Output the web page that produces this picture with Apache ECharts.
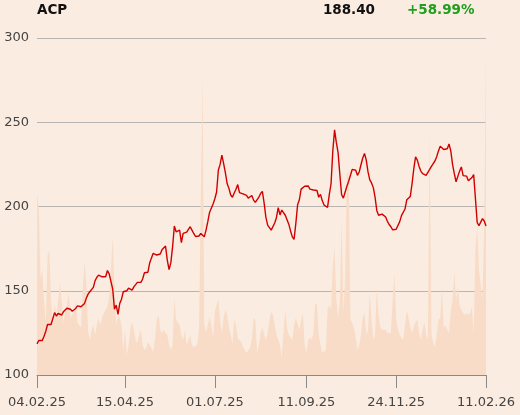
<!DOCTYPE html>
<html>
<head>
<meta charset="utf-8">
<script src="https://cdn.jsdelivr.net/npm/echarts@6/dist/echarts.min.js"></script>
<style>
html,body{margin:0;padding:0;background:#faece0;}
#chart{width:520px;height:415px;}
</style>
</head>
<body>
<div id="chart"></div>
<script>
const ticker = 'ACP';
const lastPrice = '188.40';
const changePct = '+58.99%';
const tickDates = ['04.02.25','15.04.25','01.07.25','11.09.25','24.11.25','11.02.26'];
const tickIndex = [0, 50, 101, 153, 204, 255];
const yTicks = [100, 150, 200, 250, 300];

const price = [
118.5,120.5,120,120.5,123,126,130,131,130,133.5,
137,135,136.5,137.5,135.6,137.5,138.5,139.6,139.3,139,
137.8,137,139.5,141,142,140.5,141.2,142.5,145.5,148,
149.4,150.2,152,156,158,159.3,159.8,158.3,157.6,158.3,
162,160,159.5,151,139,141.5,136,142.5,145,149.4,
148.8,150,151.5,152.5,150.4,152.3,153.6,155,155.2,155,
157,160.7,161.2,161,166.5,169.5,172.2,172.6,171.2,171.4,
171.8,174.3,175.2,176.5,168.2,162.5,166.5,176,188.4,185,
184.5,186,178.5,184,184.7,184.8,185.8,188,186,184,
182.2,181.4,182.5,184,184.6,182,186,191,196.5,197,
201.5,204.6,208.6,221.7,225,230.5,225.5,220,213.5,210.8,
206.8,205.5,208,210.2,213,208.2,207.4,207.5,206.4,206.6,
205,205.5,206.5,203.8,202.4,201.6,205.5,207.7,209,202,
193.5,189,187.5,186,187,190.2,193.5,199.3,195,197.9,
198,194.8,193.7,189.5,185.5,182,180.5,190,201,204,
210.3,211,212,211,212.2,210.3,210,209.8,209.8,209.5,
205.5,207.2,203.5,200.9,199.9,199.5,207,213.5,233,245.5,
238,232,219,207,205,206,212,215,214.3,222,
221.5,221.5,218.5,220.5,224.8,228.8,231.5,227.5,220.5,215.8,
214,211.2,205.5,197.5,194.8,195.5,195.5,195.2,193.8,191.2,
189.3,188,186.1,185.8,186.5,187.5,191,194.6,195,198.5,
204,203,206,213.5,222.5,229.5,227.5,223.8,221,219.5,
218.8,218.5,220.3,222,223.8,225.4,227,229.5,233,235.8,
235,233.8,233.9,234.3,237.1,233,225,219.5,214.7,215.2,
221,223.5,218.3,217.8,218,215.3,215,217.2,218.9,219.7,
190.5,188.6,190.7,192.8,191.4,188.4
];

const volume = [
53.7,50,28.8,31,22,15.4,35.6,37,22,13.4,
20.8,17.8,22,27.3,22,15.4,19.3,20.8,24.6,16.9,
17.8,18.7,22,15.4,14.8,14.2,25.2,33.5,26.7,13.4,
10.4,13.4,14.8,11.9,14.8,16.9,14.8,16.9,18.4,19.3,
20.2,23.7,31.2,41.2,25.2,14.8,17.8,16.9,14.8,7.4,
13.4,5.9,8.9,13.4,15.7,13.4,10.4,9.5,11.9,13.4,
8.9,7.4,8,9.8,8.9,8,6.8,10.4,16.3,17.8,
13.4,12.5,13.4,12.5,11.9,8.9,7.4,8.9,23.1,16.3,
16.3,14.8,11.9,10.4,13.4,8.9,10.4,11.9,8.9,8.3,
8,8.9,13.9,13.9,88,15,12.5,14.8,17.2,14.8,
11,18.7,18.4,22.6,16.3,12.5,16.9,19.3,17.8,14.2,
11.9,9.5,16.3,14.8,11,11,9.8,8.3,7.4,6.5,
6.8,8,10.4,16.9,16.3,6.5,8.9,12.5,14.2,11.9,
10.4,12.5,16.3,18.7,17.8,14.8,11.9,10.4,8.9,5.3,
12.5,19.3,13.9,11.9,11.9,10.4,14.8,16.9,17.2,13.4,
16.3,18.4,8.9,6.5,10.4,11,10.4,12.5,21.4,20.8,
11.9,8.9,6.5,6.5,7.4,19.3,20.8,19.3,32.6,37.7,
22.3,16.9,22.3,46,18.4,28.2,59.3,60.8,16.3,15.4,
13.9,11.3,7.4,8.9,11.9,16.9,18.4,11.9,13.4,24.3,
16.3,10.4,11.9,25.8,17.8,14.2,13.4,13.9,13.4,12.5,
12.5,12.5,22.3,30.3,16.3,13.4,11.9,11,10.4,14.8,
19.3,16.9,14.2,12.5,12.5,15.7,16.3,12.5,10.4,13.4,
15.7,11.9,10.4,72,12,9.5,8.3,11.9,16.3,16.9,
25.8,13.9,14.8,13.4,12.5,18.7,22.3,30.3,22.3,26.1,
20.8,19.3,18.4,17.8,18.4,17.8,18.4,20.2,11.9,37.1,
43.9,31.2,26.7,22.3,45,96
];

const categories = price.map((_, i) => String(i));
const isTick = (idx) => tickIndex.indexOf(idx) >= 0;

const chart = echarts.init(document.getElementById('chart'), null, {renderer: 'canvas'});
const FONT = 'DejaVu Sans';
chart.setOption({
  backgroundColor: '#faece0',
  animation: false,
  grid: {left: 37, right: 34, top: 38, bottom: 40, containLabel: false},
  graphic: [
    {type: 'text', left: 37, top: 3, style: {text: ticker, font: 'bold 13.5px "DejaVu Sans"', fill: '#111'}},
    {type: 'text', right: 145, top: 3, style: {text: lastPrice, font: 'bold 13.5px "DejaVu Sans"', fill: '#111'}},
    {type: 'text', left: 407, top: 3, style: {text: changePct, font: 'bold 13.5px "DejaVu Sans"', fill: '#1f9e1f'}}
  ],
  xAxis: {
    type: 'category',
    data: categories,
    boundaryGap: false,
    axisLine: {lineStyle: {color: '#8a8a8a', width: 1}},
    axisTick: {show: true, length: 13, interval: (idx) => isTick(idx), lineStyle: {color: '#8a8a8a'}},
    axisLabel: {
      interval: (idx) => isTick(idx),
      formatter: (v, idx) => tickDates[tickIndex.indexOf(idx)] || '',
      color: '#444', fontFamily: FONT, fontSize: 13, margin: 21,
      showMinLabel: true, showMaxLabel: true
    },
    splitLine: {show: false}
  },
  yAxis: [
    {
      type: 'value', min: yTicks[0], max: yTicks[yTicks.length - 1], interval: 50,
      axisLine: {show: false}, axisTick: {show: false},
      axisLabel: {color: '#444', fontFamily: FONT, fontSize: 13, margin: 8},
      splitLine: {lineStyle: {color: '#b8b5b2', width: 1}}
    },
    {type: 'value', min: 0, max: 100, show: false, splitLine: {show: false}}
  ],
  series: [
    {
      type: 'line', yAxisIndex: 1, data: volume, symbol: 'none', silent: true,
      lineStyle: {width: 0, color: '#f8dcc7'},
      areaStyle: {color: '#f8dcc7', opacity: 1}, z: 1
    },
    {
      type: 'line', yAxisIndex: 0, data: price, symbol: 'none',
      lineStyle: {width: 1.4, color: '#d10000'}, z: 3
    }
  ]
});
</script>
</body>
</html>
